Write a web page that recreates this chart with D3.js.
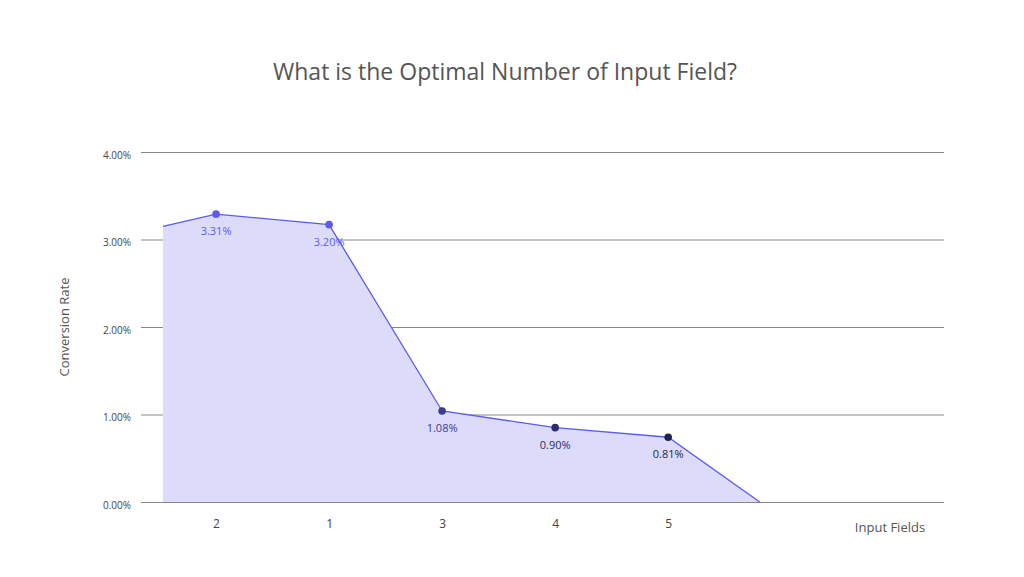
<!DOCTYPE html>
<html>
<head>
<meta charset="utf-8">
<script src="https://cdn.jsdelivr.net/npm/d3@7"></script>
<style>
body { margin: 0; background: #fff; font-family: "Open Sans", Inter, sans-serif; }
</style>
</head>
<body>
<svg id="chart" width="1024" height="577"></svg>
<script>
// DATA
var categories = ['2', '1', '3', '4', '5'];
var rates = [3.29, 3.17, 1.04, 0.85, 0.74];
var rate_labels = ['3.31%', '3.20%', '1.08%', '0.90%', '0.81%'];
var point_colors = ['#5b5bf0', '#5b5bf0', '#3b3b8f', '#2c2c6e', '#1f1f50'];
// the area runs a little past the first and last points
var edge_pos = [-0.47, 4.81];
var edge_rates = [3.15, 0];
var y_ticks = [0, 1, 2, 3, 4];

var svg = d3.select('#chart');
var x = d3.scaleLinear().domain([-0.664, 6.44]).range([141, 944]);
var y = d3.scaleLinear().domain([0, 4]).range([502, 152]);

var series = [{ i: edge_pos[0], v: edge_rates[0] }];
rates.forEach(function(v, i) { series.push({ i: i, v: v }); });
series.push({ i: edge_pos[1], v: edge_rates[1] });

svg.append('text').attr('x', 505).attr('y', 80).attr('text-anchor', 'middle')
    .attr('font-size', 23).attr('fill', '#555').text('What is the Optimal Number of Input Field?');

// grid
var yAxis = svg.append('g').attr('transform', 'translate(141,0)')
    .call(d3.axisLeft(y).tickValues(y_ticks).tickSize(-803).tickFormat(function(d) { return d.toFixed(2) + '%'; }));
yAxis.select('.domain').remove();
yAxis.selectAll('line').attr('stroke', '#888').attr('stroke-width', 1);
yAxis.selectAll('text').attr('font-size', 10).attr('fill', '#444').attr('x', -10).attr('dy', '0.6em')
    .attr('font-family', '"Open Sans", sans-serif');

var xAxis = svg.append('g').attr('transform', 'translate(0,502)')
    .call(d3.axisBottom(x).tickValues(d3.range(categories.length)).tickSize(0).tickFormat(function(d) { return categories[d]; }));
xAxis.select('.domain').remove();
xAxis.selectAll('text').attr('font-size', 12).attr('fill', '#444').attr('dy', '1.9em')
    .attr('font-family', '"Open Sans", sans-serif');

svg.append('path').datum(series)
    .attr('fill', '#dcdcfa')
    .attr('d', d3.area().x(function(d) { return x(d.i); }).y0(y(0)).y1(function(d) { return y(d.v); }));
svg.append('path').datum(series)
    .attr('fill', 'none').attr('stroke', '#5b5bf0').attr('stroke-width', 1.3)
    .attr('d', d3.line().x(function(d) { return x(d.i); }).y(function(d) { return y(d.v); }));

rates.forEach(function(v, i) {
    svg.append('circle').attr('cx', x(i)).attr('cy', y(v)).attr('r', 3.8).attr('fill', point_colors[i]);
    svg.append('text').attr('x', x(i)).attr('y', y(v) + 21).attr('text-anchor', 'middle')
        .attr('font-size', 11).attr('fill', point_colors[i]).text(rate_labels[i]);
});

svg.append('text').attr('transform', 'translate(69,327) rotate(-90)').attr('text-anchor', 'middle')
    .attr('font-size', 13).attr('fill', '#555').text('Conversion Rate');
svg.append('text').attr('x', 890).attr('y', 532).attr('text-anchor', 'middle')
    .attr('font-size', 13).attr('fill', '#555').text('Input Fields');
</script>
</body>
</html>
